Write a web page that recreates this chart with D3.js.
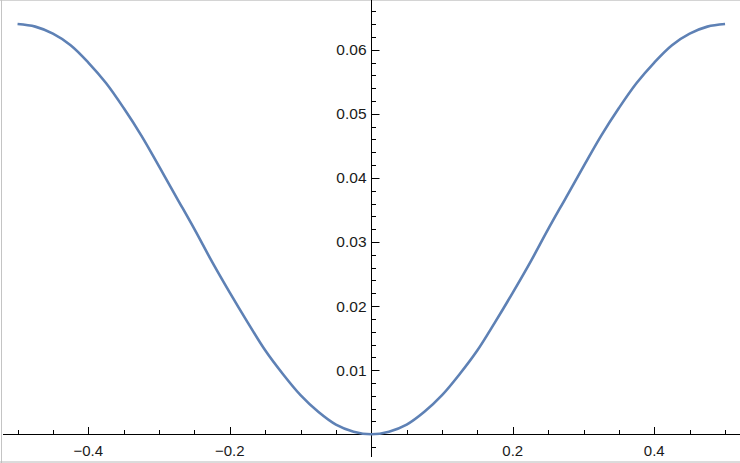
<!DOCTYPE html>
<html><head><meta charset="utf-8">
<script src="https://cdn.jsdelivr.net/npm/d3@7"></script>
<style>html,body{margin:0;padding:0;background:#fff;}svg{display:block;}</style>
</head><body>
<script>
// Data
const xs = [-0.5,-0.475,-0.45,-0.425,-0.4,-0.375,-0.35,-0.325,-0.3,-0.275,-0.25,-0.225,-0.2,-0.175,-0.15,-0.125,-0.1,-0.075,-0.05,-0.025,0,
            0.025,0.05,0.075,0.1,0.125,0.15,0.175,0.2,0.225,0.25,0.275,0.3,0.325,0.35,0.375,0.4,0.425,0.45,0.475,0.5];
const ys = [0.0640,0.0636,0.0625,0.0607,0.0580,0.0548,0.0509,0.0466,0.0418,0.0369,0.0320,0.0269,0.0221,0.0175,0.0131,0.0094,0.0061,0.0035,0.0015,0.0004,0.0000,
            0.0004,0.0015,0.0035,0.0061,0.0094,0.0131,0.0175,0.0221,0.0269,0.0320,0.0369,0.0418,0.0466,0.0509,0.0548,0.0580,0.0607,0.0625,0.0636,0.0640];
const xMajor = [-0.4,-0.2,0.2,0.4];
const xMajorLabels = ["\u22120.4","\u22120.2","0.2","0.4"];
const xMinor = [-0.5,-0.45,-0.35,-0.3,-0.25,-0.15,-0.1,-0.05,0.05,0.1,0.15,0.25,0.3,0.35,0.45,0.5];
const yMajor = [0.01,0.02,0.03,0.04,0.05,0.06];
const yMajorLabels = ["0.01","0.02","0.03","0.04","0.05","0.06"];
const yMinor = [-0.002,0.002,0.004,0.006,0.008,0.012,0.014,0.016,0.018,0.022,0.024,0.026,0.028,0.032,0.034,0.036,0.038,0.042,0.044,0.046,0.048,0.052,0.054,0.056,0.058,0.062,0.064,0.066];

const W = 740, H = 463;
const svg = d3.select("body").append("svg").attr("width", W).attr("height", H);

const x = d3.scaleLinear().domain([-0.5, 0.5]).range([17.55, 725.05]);
const y = d3.scaleLinear().domain([0, 0.06]).range([434.3, 49.7]);

// frame
svg.append("line").attr("x1",0).attr("x2",W).attr("y1",0.5).attr("y2",0.5).attr("stroke","#d4d4d4");
svg.append("line").attr("x1",1.5).attr("x2",1.5).attr("y1",0).attr("y2",H).attr("stroke","#c4c4c4");
svg.append("line").attr("x1",0).attr("x2",W).attr("y1",462).attr("y2",462).attr("stroke","#b8b8b8");

const ax = svg.append("g").attr("stroke","#000").attr("stroke-width",1);
const x0 = Math.round(x(0)) + 0.5, yb = Math.round(y(0)) + 0.5;
// x axis line
ax.append("line").attr("x1",3).attr("x2",W).attr("y1",yb).attr("y2",yb);
// y axis line
ax.append("line").attr("x1",x0).attr("x2",x0).attr("y1",0).attr("y2",457);

// x ticks
ax.selectAll(".xmaj").data(xMajor).join("line")
  .attr("x1",d=>Math.round(x(d))+0.5).attr("x2",d=>Math.round(x(d))+0.5)
  .attr("y1",yb).attr("y2",yb-7.5);
ax.selectAll(".xmin").data(xMinor).join("line")
  .attr("x1",d=>Math.round(x(d))+0.5).attr("x2",d=>Math.round(x(d))+0.5)
  .attr("y1",yb).attr("y2",yb-4.5);
// y ticks
ax.selectAll(".ymaj").data(yMajor).join("line")
  .attr("y1",d=>Math.round(y(d))+0.5).attr("y2",d=>Math.round(y(d))+0.5)
  .attr("x1",x0).attr("x2",x0+8);
ax.selectAll(".ymin").data(yMinor).join("line")
  .attr("y1",d=>Math.round(y(d))+0.5).attr("y2",d=>Math.round(y(d))+0.5)
  .attr("x1",x0).attr("x2",x0+4.5);

const font = "'Liberation Sans', Arial, Helvetica, sans-serif";
svg.selectAll(".xl").data(xMajor).join("text")
  .attr("x",d=>x(d)).attr("y",455.7)
  .attr("text-anchor","middle").attr("font-family",font).attr("font-size",15).attr("fill","#1a1a1a")
  .text((d,i)=>xMajorLabels[i]);
svg.selectAll(".yl").data(yMajor).join("text")
  .attr("x",366.5).attr("y",d=>y(d)+5.4)
  .attr("text-anchor","end").attr("font-family",font).attr("font-size",15.5).attr("fill","#1a1a1a")
  .text((d,i)=>yMajorLabels[i]);

// curve
const pts = xs.map((v,i)=>[v, ys[i]]);
svg.append("path").datum(pts)
  .attr("fill","none").attr("stroke","#5E81B5").attr("stroke-width",2.6)
  .attr("stroke-linejoin","round")
  .attr("d", d3.line().x(d=>x(d[0])).y(d=>y(d[1])).curve(d3.curveCatmullRom.alpha(0.5)));
</script>
</body></html>
